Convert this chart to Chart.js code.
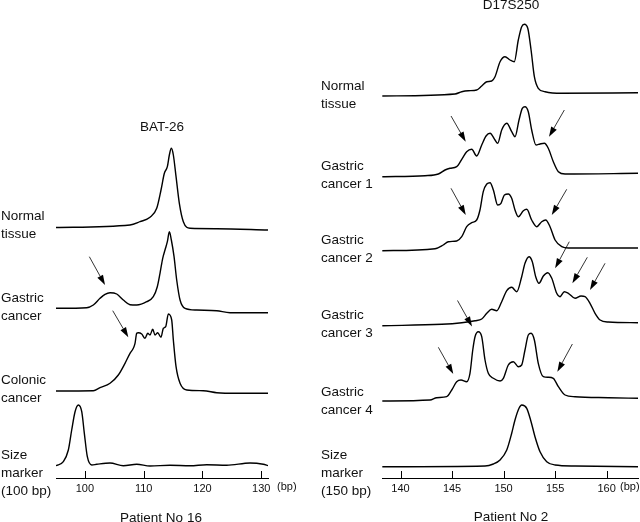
<!DOCTYPE html>
<html>
<head>
<meta charset="utf-8">
<script src="https://cdn.jsdelivr.net/npm/chart.js@4"></script>
<style>
  body { margin: 0; background: #fff; }
  #wrap { position: relative; width: 640px; height: 522px; overflow: hidden;
          font-family: "Liberation Sans", Arial, sans-serif; color: #111; }
  canvas { position: absolute; left: 0; top: 0; }
  .lbl { position: absolute; font-size: 13.5px; line-height: 17.8px; white-space: nowrap; }
  .mid { transform: translateX(-50%); }
  .unit { font-size: 11px; line-height: 14px; }
</style>
</head>
<body>
<div id="wrap">
  <canvas id="left" width="640" height="522"></canvas>
  <canvas id="right" width="640" height="522"></canvas>

  <div class="lbl mid" style="left:162px;top:118px">BAT-26</div>
  <div class="lbl mid" style="left:511px;top:-4px">D17S250</div>

  <div class="lbl" style="left:1px;top:207px">Normal<br>tissue</div>
  <div class="lbl" style="left:1px;top:289px">Gastric<br>cancer</div>
  <div class="lbl" style="left:1px;top:371px">Colonic<br>cancer</div>
  <div class="lbl" style="left:1px;top:446px">Size<br>marker<br>(100 bp)</div>

  <div class="lbl" style="left:321px;top:77px">Normal<br>tissue</div>
  <div class="lbl" style="left:321px;top:157px">Gastric<br>cancer 1</div>
  <div class="lbl" style="left:321px;top:231px">Gastric<br>cancer 2</div>
  <div class="lbl" style="left:321px;top:306px">Gastric<br>cancer 3</div>
  <div class="lbl" style="left:321px;top:383px">Gastric<br>cancer 4</div>
  <div class="lbl" style="left:321px;top:446px">Size<br>marker<br>(150 bp)</div>

  <div class="lbl unit" style="left:277px;top:479px">(bp)</div>
  <div class="lbl unit" style="left:620px;top:479px">(bp)</div>

  <div class="lbl mid" style="left:161px;top:509px">Patient No 16</div>
  <div class="lbl mid" style="left:511px;top:508px">Patient No 2</div>
</div>
<script>
// ---- BAT-26, patient 16 (fragment size in bp, signal height) ----
const batTicks = [100, 110, 120, 130];

const batNormalBp  = [95.09, 107.68, 109.38, 111.08, 112.22, 112.95, 113.52, 114.03, 114.37, 114.71, 115.05, 115.51, 116.07, 116.75, 117.89, 122.43, 131.15];
const batNormalSig = [0, 2.5, 5.8, 10.2, 19.2, 37.5, 54.2, 60.8, 72.5, 79.2, 72.5, 50.8, 24.2, 5.8, -0.8, -1.2, -2.5];

const batGastricBp  = [95.09, 100.32, 101.44, 102.58, 103.43, 104.28, 105.42, 106.54, 107.68, 108.82, 110.52, 111.64, 112.32, 112.78, 113.24, 113.63, 114.03, 114.37, 114.71, 115.17, 115.62, 116.19, 117.04, 119.03, 122.43, 124.69, 131.15];
const batGastricSig = [0, 0.6, 3.3, 10, 14, 15.6, 14.3, 8.3, 3.6, 3.3, 6.6, 11.6, 21.6, 35, 50, 58.3, 66.6, 76.6, 68.3, 51.6, 28.3, 8.3, 0, -1.7, -2.4, -4.4, -4.4];

const batColonicBp  = [95.09, 101.44, 102.58, 104.28, 105.69, 106.83, 107.68, 108.24, 108.53, 108.82, 109.09, 109.67, 110.23, 110.69, 111.08, 111.54, 111.93, 112.39, 112.95, 113.35, 113.75, 114.2, 114.77, 115.05, 115.51, 116.19, 117.33, 120.15, 122.43, 125.83, 131.15];
const batColonicSig = [0, 0.3, 3.3, 7.7, 16, 27.7, 37.7, 42.7, 47.7, 57.7, 58.3, 57, 52.7, 57.7, 56, 61.7, 56, 58.3, 53.7, 62.7, 64.3, 77, 71, 51, 24.3, 7.7, 1, 0.3, -1.7, -2.3, -2.3];

const batSizeBp  = [95.09, 96.34, 97.19, 97.76, 98.33, 98.89, 99.47, 99.91, 100.42, 101.17, 102.02, 104.28, 106.54, 108.82, 111.08, 114.48, 117.89, 120.73, 124.13, 128.09, 130.35, 131.15];
const batSizeSig = [-0.2, 3.8, 15.5, 35.5, 53.8, 60.5, 53.8, 32.2, 8.8, 0.5, 1.2, 2.5, -0.2, 1.2, -0.5, 0.2, -0.2, 0.8, 0.2, 2.5, 1.2, -0.2];

// ---- D17S250, patient 2 ----
const dTicks = [140, 145, 150, 155, 160];

const dNormalBp  = [138.23, 145.29, 145.94, 146.58, 147.39, 147.88, 148.37, 148.85, 149.17, 149.66, 150.14, 150.63, 151.04, 151.43, 151.76, 152.02, 152.35, 152.67, 152.99, 153.37, 154.03, 155.65, 163.05];
const dNormalSig = [0, 2, 4.3, 5.3, 6, 10, 14.3, 15, 19.3, 34.3, 39.3, 36, 34.3, 56, 69.3, 71.7, 67.7, 46, 19.3, 7.7, 4.3, 2.7, 3.3];

const dGc1Bp  = [138.23, 142.37, 143.67, 144.32, 144.8, 145.45, 146.0, 146.42, 146.91, 147.39, 147.88, 148.3, 148.69, 149.17, 149.43, 149.82, 150.31, 150.79, 151.11, 151.5, 151.82, 152.08, 152.4, 152.73, 153.15, 153.54, 153.96, 154.34, 154.83, 155.32, 155.97, 163.05];
const dGc1Sig = [0, 1, 2.7, 6.7, 8.4, 10, 18.4, 25, 27.4, 20.7, 31.7, 40.7, 43.4, 36.7, 33.4, 46.7, 53.4, 45, 40, 56.7, 68.4, 70, 65, 46.7, 31.7, 32.7, 33.4, 28.4, 15, 5, 2.7, 3.4];

const dGc2Bp  = [138.23, 143.35, 144.15, 144.64, 145.45, 145.94, 146.42, 146.91, 147.39, 147.71, 148.03, 148.37, 148.69, 149.01, 149.43, 149.75, 150.08, 150.46, 150.79, 151.11, 151.43, 151.92, 152.25, 152.73, 153.22, 153.7, 154.09, 154.51, 155.0, 155.65, 156.29, 163.05];
const dGc2Sig = [0, 2, 5.7, 9, 9.7, 14, 24, 28, 30.7, 40.7, 59, 66.7, 68, 60.7, 45.7, 47.4, 55.7, 56.7, 52.4, 40.7, 34, 40, 41.4, 30.7, 24, 29, 30.7, 24, 10.7, 4, 2.7, 2.7];

const dGc3Bp  = [138.23, 144.0, 145.94, 147.23, 147.88, 148.37, 148.85, 149.34, 149.82, 150.31, 150.79, 151.28, 151.76, 152.08, 152.47, 152.79, 153.12, 153.44, 153.86, 154.29, 154.68, 155.16, 155.48, 155.9, 156.29, 156.94, 157.52, 157.91, 158.39, 158.88, 159.37, 160.17, 163.05];
const dGc3Sig = [0, 1.4, 3, 5, 6.7, 12.4, 16.4, 15, 24, 35, 38.4, 34, 49, 62.4, 69, 64, 49, 42.4, 49.7, 53, 47.4, 32.4, 29, 34, 32.4, 27.4, 29.7, 29, 22.4, 12.4, 5.7, 3.7, 3];

const dGc4Bp  = [138.23, 142.86, 143.51, 144.48, 144.97, 145.45, 145.87, 146.42, 146.74, 147.01, 147.23, 147.55, 147.88, 148.2, 148.52, 149.01, 149.66, 149.98, 150.46, 150.95, 151.43, 151.76, 152.08, 152.4, 152.67, 152.99, 153.37, 153.86, 154.34, 154.83, 155.32, 155.97, 156.94, 160.17, 163.05];
const dGc4Sig = [0, 1, 3.3, 4.3, 11, 19.3, 21, 19.3, 27.7, 51, 64.3, 69.3, 64.3, 41, 27.7, 22.7, 20, 22.7, 36, 39.3, 34.3, 36, 51, 66, 67.7, 61, 37.7, 24.3, 23.7, 22.7, 14.3, 6, 4.3, 3.3, 2.7];

const dSizeBp  = [138.23, 148.2, 149.01, 149.66, 150.31, 150.79, 151.11, 151.5, 151.76, 152.25, 152.67, 153.05, 153.54, 154.19, 155.0, 156.94, 163.05];
const dSizeSig = [0, 0.7, 2.7, 6.7, 16.7, 33.4, 46.7, 58.4, 61.7, 58.4, 45, 30, 15, 5, 1.7, 0.7, 0];

// ---- layout: vertical offset of each trace (px above the axis) ----
const batOffsets = [250.5, 169.7, 87, 12.5];
const dOffsets = [382, 301.3, 227.3, 152.3, 77, 11.3];

// arrows: [trace, tail bp, tail height, tip bp, tip height]
const batArrows = [
  [1, 100.76, 51.6, 103.43, 23.3],
  [2, 104.74, 80.3, 107.39, 53.7]
];
const dArrows = [
  [1, 144.9, 60.7, 146.33, 35], [1, 155.9, 66.7, 154.41, 40],
  [2, 144.9, 62.4, 146.33, 35.7], [2, 156.13, 61.4, 154.68, 35.7],
  [3, 156.38, 84, 155.0, 57.4], [3, 158.13, 68.4, 156.68, 42.4], [3, 159.85, 62.4, 158.39, 35.7],
  [4, 145.53, 100.5, 146.94, 74.5], [4, 143.67, 53.7, 145.12, 27], [4, 156.68, 57, 155.22, 29.3]
];

function makeTraces(list, offsets) {
  return list.map(([bp, sig], k) => ({
    data: bp.map((b, i) => ({ x: b, y: offsets[k] + sig[i] })),
    borderColor: "#000",
    borderWidth: 1.4,
    pointRadius: 0,
    cubicInterpolationMode: "monotone",
    fill: false
  }));
}

function marksPlugin(arrows, offsets) {
  return {
    id: "marks",
    afterDraw(chart) {
      const ctx = chart.ctx, xs = chart.scales.x, ys = chart.scales.y;
      ctx.save();
      ctx.strokeStyle = "#000";
      ctx.fillStyle = "#000";
      // inward tick marks
      ctx.lineWidth = 1;
      xs.ticks.forEach(t => {
        const px = Math.round(xs.getPixelForValue(t.value)) + 0.5;
        ctx.beginPath();
        ctx.moveTo(px, ys.bottom);
        ctx.lineTo(px, ys.bottom - 7);
        ctx.stroke();
      });
      // arrows
      arrows.forEach(([k, bx, bh, tx, th]) => {
        const x0 = xs.getPixelForValue(bx), y0 = ys.getPixelForValue(offsets[k] + bh);
        const x1 = xs.getPixelForValue(tx), y1 = ys.getPixelForValue(offsets[k] + th);
        const a = Math.atan2(y1 - y0, x1 - x0);
        const len = 10, w = 3.2;
        const hx = x1 - len * Math.cos(a), hy = y1 - len * Math.sin(a);
        ctx.lineWidth = 0.8;
        ctx.beginPath();
        ctx.moveTo(x0, y0);
        ctx.lineTo(hx, hy);
        ctx.stroke();
        ctx.beginPath();
        ctx.moveTo(x1, y1);
        ctx.lineTo(hx + w * Math.sin(a), hy - w * Math.cos(a));
        ctx.lineTo(hx - w * Math.sin(a), hy + w * Math.cos(a));
        ctx.closePath();
        ctx.fill();
      });
      ctx.restore();
    }
  };
}

function panel(id, traces, offsets, arrows, ticks, xmin, xmax, padLeft, padRight) {
  new Chart(document.getElementById(id), {
    type: "line",
    data: { datasets: makeTraces(traces, offsets) },
    options: {
      responsive: false,
      animation: false,
      layout: { padding: { left: padLeft, right: padRight, top: 0, bottom: 0 } },
      plugins: { legend: { display: false }, tooltip: { enabled: false } },
      scales: {
        x: {
          type: "linear",
          min: xmin,
          max: xmax,
          afterBuildTicks: s => { s.ticks = ticks.map(v => ({ value: v })); },
          afterFit: s => { s.height = 44; },
          grid: { display: false, drawTicks: false },
          border: { display: true, color: "#000", width: 1 },
          ticks: {
            autoSkip: false,
            maxRotation: 0,
            padding: 4,
            color: "#111",
            font: { family: "Liberation Sans", size: 11 }
          }
        },
        y: { display: false, min: 0, max: 478 }
      }
    },
    plugins: [marksPlugin(arrows, offsets)]
  });
}

panel("left",
  [[batNormalBp, batNormalSig], [batGastricBp, batGastricSig], [batColonicBp, batColonicSig], [batSizeBp, batSizeSig]],
  batOffsets, batArrows, batTicks, 95.09, 131.15, 56, 372);

panel("right",
  [[dNormalBp, dNormalSig], [dGc1Bp, dGc1Sig], [dGc2Bp, dGc2Sig], [dGc3Bp, dGc3Sig], [dGc4Bp, dGc4Sig], [dSizeBp, dSizeSig]],
  dOffsets, dArrows, dTicks, 138.2, 163.05, 382, 2);
</script>
</body>
</html>
